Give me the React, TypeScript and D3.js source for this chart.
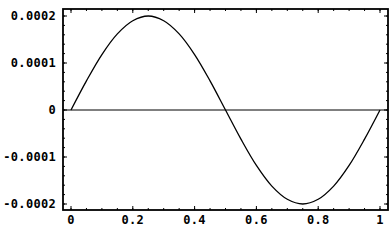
import * as d3 from 'd3';

// values, y in units of 1e-4
const xValues = [0, 0.05, 0.1, 0.15, 0.2, 0.25, 0.3, 0.35, 0.4, 0.45, 0.5, 0.55, 0.6, 0.65, 0.7, 0.75, 0.8, 0.85, 0.9, 0.95, 1];
const yValues = [0, 0.62, 1.18, 1.62, 1.9, 2.0, 1.9, 1.62, 1.18, 0.62, 0, -0.62, -1.18, -1.62, -1.9, -2.0, -1.9, -1.62, -1.18, -0.62, 0];

const xTicks = [0, 0.2, 0.4, 0.6, 0.8, 1];
const xTickLabels = ['0', '0.2', '0.4', '0.6', '0.8', '1'];
const xMinorTicks = d3.range(0, 21).map((i) => i * 0.05);
const yTicks = [2, 1, 0, -1, -2];
const yTickLabels = ['0.0002', '0.0001', '0', '-0.0001', '-0.0002'];
const yMinorTicks = d3.range(-10, 11).map((i) => i * 0.2);

const W = 390;
const H = 241;
const left = 63;
const right = 388;
const top = 9;
const bottom = 210;

export default function App() {
  const x = d3.scaleLinear().domain([0, 1]).range([71, 380]);
  const y = d3.scaleLinear().domain([2, -2]).range([16, 204]);

  const pts = xValues.map((v, i) => [v, yValues[i]] as [number, number]);
  const line = d3
    .line<[number, number]>()
    .x((d) => x(d[0]))
    .y((d) => y(d[1]))
    .curve(d3.curveCatmullRom);

  const font = { fontFamily: '"DejaVu Sans Mono", monospace', fontWeight: 700, fontSize: 12, letterSpacing: 0.3 };

  return (
    <svg width={W} height={H} style={{ position: 'absolute', left: 0, top: 0, background: '#fff' }}>
      {/* zero line */}
      <line x1={left} x2={right} y1={y(0)} y2={y(0)} stroke="#000" strokeWidth={1} />

      {/* curve */}
      <path d={line(pts) ?? ''} fill="none" stroke="#000" strokeWidth={1.3} />

      {/* minor ticks */}
      {xMinorTicks.map((t, i) => (
        <g key={'xm' + i}>
          <line x1={x(t)} x2={x(t)} y1={bottom} y2={bottom - 2} stroke="#000" />
          <line x1={x(t)} x2={x(t)} y1={top} y2={top + 2} stroke="#000" />
        </g>
      ))}
      {yMinorTicks.map((t, i) => (
        <g key={'ym' + i}>
          <line x1={left} x2={left + 2} y1={y(t)} y2={y(t)} stroke="#000" />
          <line x1={right} x2={right - 2} y1={y(t)} y2={y(t)} stroke="#000" />
        </g>
      ))}

      {/* major ticks */}
      {xTicks.map((t, i) => (
        <g key={'xt' + i}>
          <line x1={x(t)} x2={x(t)} y1={bottom} y2={bottom - 4} stroke="#000" />
          <line x1={x(t)} x2={x(t)} y1={top} y2={top + 4} stroke="#000" />
          <text x={x(t)} y={224} textAnchor="middle" {...font}>
            {xTickLabels[i]}
          </text>
        </g>
      ))}
      {yTicks.map((t, i) => (
        <g key={'yt' + i}>
          <line x1={left} x2={left + 4} y1={y(t)} y2={y(t)} stroke="#000" />
          <line x1={right} x2={right - 4} y1={y(t)} y2={y(t)} stroke="#000" />
          <text x={56} y={y(t) + 4} textAnchor="end" {...font}>
            {yTickLabels[i]}
          </text>
        </g>
      ))}

      {/* frame */}
      <rect x={left} y={top} width={right - left} height={bottom - top} fill="none" stroke="#000" strokeWidth={1.8} />
    </svg>
  );
}
